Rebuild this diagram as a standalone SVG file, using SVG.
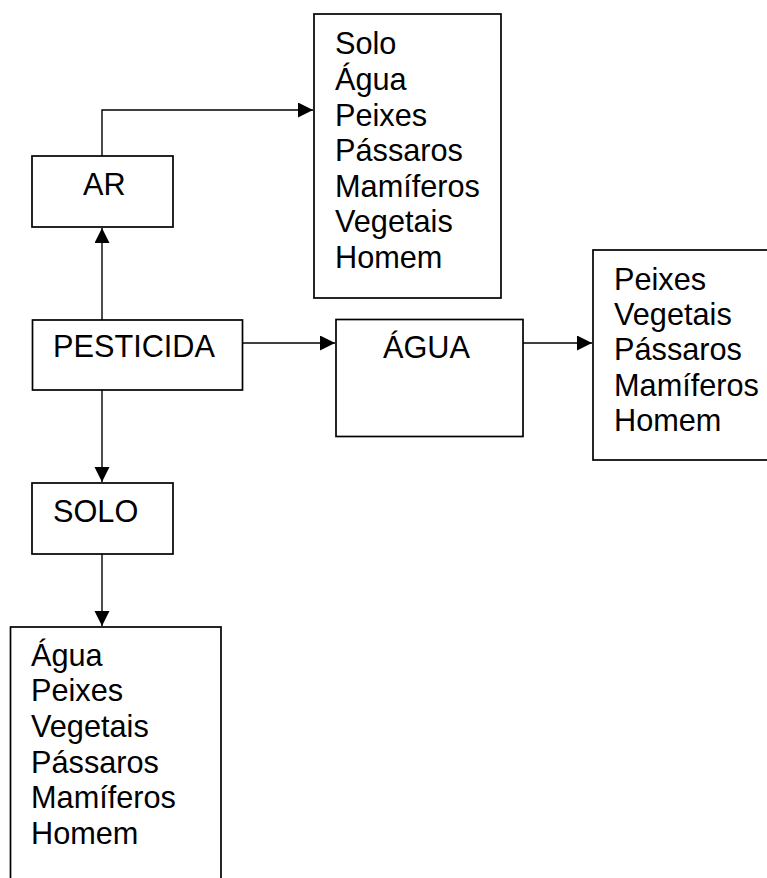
<svg xmlns="http://www.w3.org/2000/svg" width="767" height="878" viewBox="0 0 767 878">
<style>
.box{fill:#fff;stroke:#000;stroke-width:1.7}
.t{font-family:"Liberation Sans",Arial,sans-serif;font-size:30.7px;fill:#000}
.c{fill:none;stroke:#000;stroke-width:1.4}
</style>
<defs>
<marker id="ah" markerUnits="userSpaceOnUse" markerWidth="16" markerHeight="16" viewBox="0 0 16 16" refX="15" refY="7.5" orient="auto">
<path d="M0,0 L15,7.5 L0,15 Z" fill="#000"/>
</marker>
</defs>
<rect width="767" height="878" fill="#fff"/>
<g id="connectors">
<path class="c" d="M102,156 V110 H313" marker-end="url(#ah)"/>
<path class="c" d="M102,320 V228" marker-end="url(#ah)"/>
<path class="c" d="M243,343 H335" marker-end="url(#ah)"/>
<path class="c" d="M523,343 H592" marker-end="url(#ah)"/>
<path class="c" d="M102,390 V482" marker-end="url(#ah)"/>
<path class="c" d="M102,554 V626" marker-end="url(#ah)"/>
</g>
<g id="ar">
<rect class="box" x="32" y="156" width="141" height="71"/>
<text class="t" x="83" y="195">AR</text>
</g>
<g id="pesticida">
<rect class="box" x="32.5" y="320" width="210" height="70"/>
<text class="t" x="53" y="357">PESTICIDA</text>
</g>
<g id="agua">
<rect class="box" x="336" y="319.5" width="187" height="117"/>
<text class="t" x="383" y="358">ÁGUA</text>
</g>
<g id="solo">
<rect class="box" x="32" y="483" width="141" height="71"/>
<text class="t" x="53" y="521.5">SOLO</text>
</g>
<g id="ar-targets">
<rect class="box" x="314" y="14" width="187" height="284"/>
<text class="t" x="335" y="54.3">Solo</text>
<text class="t" x="335" y="89.9">Água</text>
<text class="t" x="335" y="125.5">Peixes</text>
<text class="t" x="335" y="161.1">Pássaros</text>
<text class="t" x="335" y="196.7">Mamíferos</text>
<text class="t" x="335" y="232.3">Vegetais</text>
<text class="t" x="335" y="267.9">Homem</text>
</g>
<g id="agua-targets">
<rect class="box" x="593" y="250" width="180" height="210"/>
<text class="t" x="614" y="290">Peixes</text>
<text class="t" x="614" y="325.2">Vegetais</text>
<text class="t" x="614" y="360.4">Pássaros</text>
<text class="t" x="614" y="395.6">Mamíferos</text>
<text class="t" x="614" y="430.8">Homem</text>
</g>
<g id="solo-targets">
<rect class="box" x="10.5" y="627" width="210.5" height="260"/>
<text class="t" x="31" y="665.7">Água</text>
<text class="t" x="31" y="701.3">Peixes</text>
<text class="t" x="31" y="736.9">Vegetais</text>
<text class="t" x="31" y="772.5">Pássaros</text>
<text class="t" x="31" y="808.1">Mamíferos</text>
<text class="t" x="31" y="843.7">Homem</text>
</g>
</svg>
